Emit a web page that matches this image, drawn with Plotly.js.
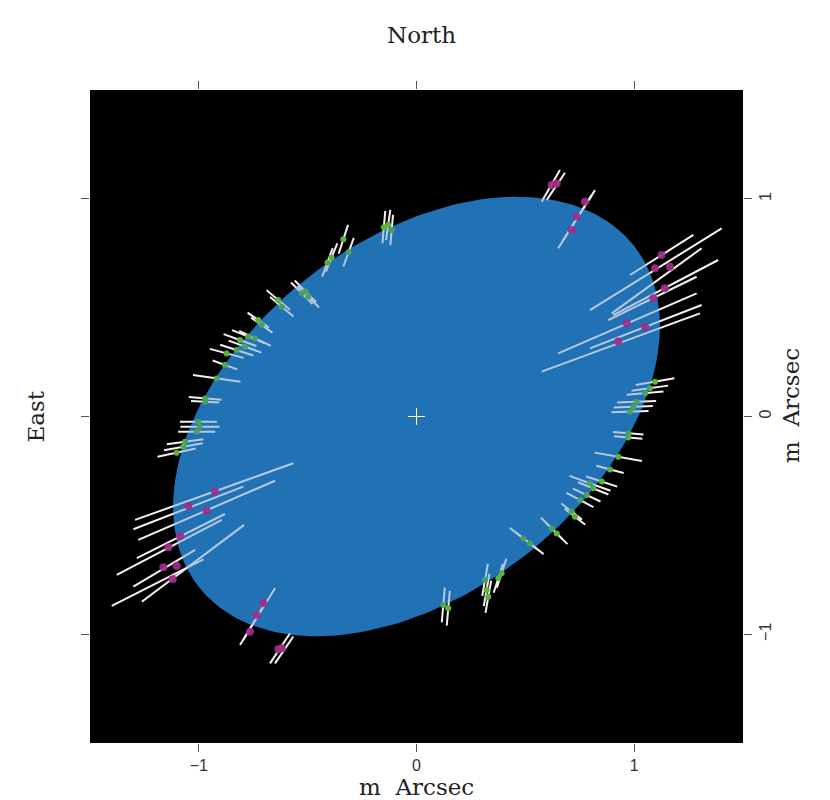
<!DOCTYPE html>
<html>
<head>
<meta charset="utf-8">
<script src="https://cdn.plot.ly/plotly-3.0.1.min.js"></script>
<style>html,body{margin:0;padding:0;background:#fff;}#chart{width:830px;height:800px;}</style>
</head>
<body>
<div id="chart"></div>
<script>
// Fitted ellipse (semi-axes in m Arcsec, tilt in degrees from x axis)
const ellipseA = 1.27;
const ellipseB = 0.81;
const ellipseTilt = 38;

// Magenta chord segments (endpoints)
const magX0 = [0.981, 0.797, 0.897, 0.904, 0.881, 0.651, 0.797, 0.575, 0.575, 0.598, 0.651, 0.674, -1.293, -1.301, -1.278, -1.285, -1.377, -1.301, -1.400, -1.262, -0.811, -0.796, -0.673, -0.650];
const magY0 = [0.650, 0.489, 0.474, 0.466, 0.443, 0.290, 0.313, 0.206, 0.987, 0.994, 0.773, 0.811, -0.475, -0.518, -0.567, -0.651, -0.728, -0.782, -0.870, -0.851, -1.050, -1.027, -1.134, -1.134];
const magX1 = [1.272, 1.402, 1.310, 1.386, 1.287, 1.287, 1.310, 1.302, 0.659, 0.682, 0.820, 0.805, -0.566, -0.796, -0.650, -0.880, -0.895, -1.017, -0.979, -0.792, -0.650, -0.696, -0.581, -0.566];
const magY1 = [0.834, 0.864, 0.773, 0.719, 0.642, 0.566, 0.512, 0.474, 1.132, 1.120, 1.040, 1.017, -0.215, -0.322, -0.295, -0.448, -0.475, -0.613, -0.656, -0.498, -0.789, -0.858, -0.996, -1.011];

// Magenta points
const magDotX = [0.621, 0.644, 0.774, 0.736, 0.713, 1.126, 1.096, 1.164, 1.141, 1.088, 0.966, 1.050, 0.927, -0.926, -1.048, -0.964, -1.086, -1.140, -1.163, -1.102, -1.120, -0.704, -0.734, -0.765, -0.635, -0.619];
const magDotY = [1.063, 1.071, 0.987, 0.918, 0.857, 0.742, 0.681, 0.688, 0.589, 0.543, 0.428, 0.412, 0.344, -0.345, -0.411, -0.433, -0.549, -0.601, -0.693, -0.687, -0.748, -0.858, -0.912, -0.989, -1.069, -1.065];

// Green points with short error segments: centre, direction (deg), half length
const greenX = [-0.150, -0.130, -0.114, -0.336, -0.312, -0.390, -0.409, -0.527, -0.497, -0.510, -0.635, -0.619, -0.727, -0.711, -0.811, -0.773, -0.788, -0.742, -0.826, -0.872, -0.880, -0.918, -0.971, -0.971, -1.002, -0.995, -1.010, -1.063, -1.071, -1.102,
                1.096, 1.072, 1.050, 1.011, 0.996, 0.981, 0.973, 0.973, 0.927, 0.889, 0.797, 0.851, 0.812, 0.782, 0.751, 0.713, 0.728, 0.621, 0.644, 0.491, 0.521, 0.391, 0.376, 0.315, 0.322, 0.330, 0.123, 0.146];
const greenY = [0.870, 0.880, 0.857, 0.814, 0.755, 0.731, 0.708, 0.566, 0.550, 0.575, 0.535, 0.504, 0.443, 0.420, 0.351, 0.367, 0.321, 0.359, 0.305, 0.290, 0.237, 0.175, 0.083, 0.068, -0.024, -0.047, -0.070, -0.116, -0.139, -0.166,
                0.160, 0.130, 0.107, 0.068, 0.045, 0.022, -0.077, -0.096, -0.185, -0.243, -0.307, -0.299, -0.330, -0.361, -0.384, -0.437, -0.460, -0.514, -0.537, -0.560, -0.583, -0.720, -0.743, -0.751, -0.797, -0.828, -0.866, -0.881];
const greenAngle = [85, 82, 85, 72, 70, 68, 70, -45, -45, -45, -40, -40, -35, -35, -20, -22, -20, -25, -18, -15, -20, -8, -5, -3, 0, 0, 0, 8, 10, 12,
                    10, 8, 5, 2, 2, 2, -5, -5, -10, -15, -20, -18, -22, -25, -28, -38, -38, -45, -45, -38, -38, 72, 72, 80, 80, 80, 85, 85];
const greenHalf = [0.075, 0.07, 0.07, 0.07, 0.07, 0.07, 0.07, 0.07, 0.07, 0.07, 0.07, 0.07, 0.06, 0.06, 0.08, 0.08, 0.08, 0.08, 0.08, 0.08, 0.06, 0.11, 0.075, 0.065, 0.085, 0.09, 0.085, 0.085, 0.09, 0.09,
                   0.09, 0.085, 0.085, 0.09, 0.09, 0.085, 0.07, 0.065, 0.11, 0.065, 0.1, 0.075, 0.075, 0.07, 0.07, 0.06, 0.06, 0.07, 0.07, 0.08, 0.08, 0.07, 0.07, 0.075, 0.075, 0.075, 0.08, 0.08];

const tickVals = [-1, 0, 1];

// ---- build traces ----
const ex = [], ey = [];
const tr = ellipseTilt * Math.PI / 180;
for (let i = 0; i <= 360; i += 2) {
  const t = i * Math.PI / 180;
  const u = ellipseA * Math.cos(t), v = ellipseB * Math.sin(t);
  ex.push(u * Math.cos(tr) - v * Math.sin(tr));
  ey.push(u * Math.sin(tr) + v * Math.cos(tr));
}

const lx = [], ly = [];
for (let i = 0; i < magX0.length; i++) {
  lx.push(magX0[i], magX1[i], null);
  ly.push(magY0[i], magY1[i], null);
}
for (let i = 0; i < greenX.length; i++) {
  const a = greenAngle[i] * Math.PI / 180, h = greenHalf[i];
  lx.push(greenX[i] - h * Math.cos(a), greenX[i] + h * Math.cos(a), null);
  ly.push(greenY[i] - h * Math.sin(a), greenY[i] + h * Math.sin(a), null);
}

const blue = 'rgb(33,113,181)';
const traces = [
  {x: ex, y: ey, mode: 'lines', fill: 'toself', fillcolor: blue, line: {width: 0, color: blue}, hoverinfo: 'skip'},
  {x: lx, y: ly, mode: 'lines', line: {width: 2, color: '#f6f0f0'}, hoverinfo: 'skip'},
  {x: greenX, y: greenY, mode: 'markers', marker: {size: 6, color: '#5db43c'}, hoverinfo: 'skip'},
  {x: ex, y: ey, mode: 'lines', fill: 'toself', fillcolor: 'rgba(33,113,181,0.3)', line: {width: 0, color: 'rgba(0,0,0,0)'}, hoverinfo: 'skip'},
  {x: magDotX, y: magDotY, mode: 'markers', marker: {size: 8, color: 'rgba(160,45,135,0.92)'}, hoverinfo: 'skip'},
  {x: [0], y: [0], mode: 'markers', marker: {symbol: 'cross-thin-open', size: 12, color: '#ffffff', line: {width: 1, color: '#ffffff'}}, hoverinfo: 'skip'}
];

const tickFont = {family: 'Liberation Sans, Arial, sans-serif', size: 16, color: '#333'};
const titleFont = {family: 'DejaVu Serif, serif', size: 23, color: '#222'};

const layout = {
  width: 830, height: 800,
  margin: {l: 90, r: 87, t: 90, b: 57, pad: 0},
  paper_bgcolor: '#ffffff', plot_bgcolor: '#000000',
  showlegend: false,
  xaxis: {
    range: [-1.5, 1.5], tickvals: tickVals, ticks: 'outside', ticklen: 8, tickwidth: 1, tickcolor: '#555',
    mirror: 'ticks', showgrid: false, zeroline: false, showline: false, fixedrange: true,
    tickfont: tickFont, automargin: false
  },
  yaxis: {
    range: [-1.5, 1.5], tickvals: tickVals, ticks: 'outside', ticklen: 8, tickwidth: 1, tickcolor: '#555',
    side: 'right', tickangle: -90, mirror: 'ticks', showgrid: false, zeroline: false, showline: false, fixedrange: true,
    tickfont: tickFont, automargin: false
  },
  annotations: [
    {text: 'North', xref: 'paper', yref: 'paper', x: 0.508, y: 1 + 55 / 653, xanchor: 'center', yanchor: 'middle', showarrow: false, font: titleFont},
    {text: 'East', xref: 'paper', yref: 'paper', x: -55 / 653, y: 0.5, xanchor: 'center', yanchor: 'middle', textangle: -90, showarrow: false, font: titleFont},
    {text: 'm\u00a0 Arcsec', xref: 'paper', yref: 'paper', x: 0.5, y: -44 / 653, xanchor: 'center', yanchor: 'middle', showarrow: false, font: titleFont},
    {text: 'm\u00a0 Arcsec', xref: 'paper', yref: 'paper', x: 1 + 48 / 653, y: 0.516, xanchor: 'center', yanchor: 'middle', textangle: -90, showarrow: false, font: titleFont}
  ]
};

Plotly.newPlot('chart', traces, layout, {staticPlot: true, displayModeBar: false});
</script>
</body>
</html>
